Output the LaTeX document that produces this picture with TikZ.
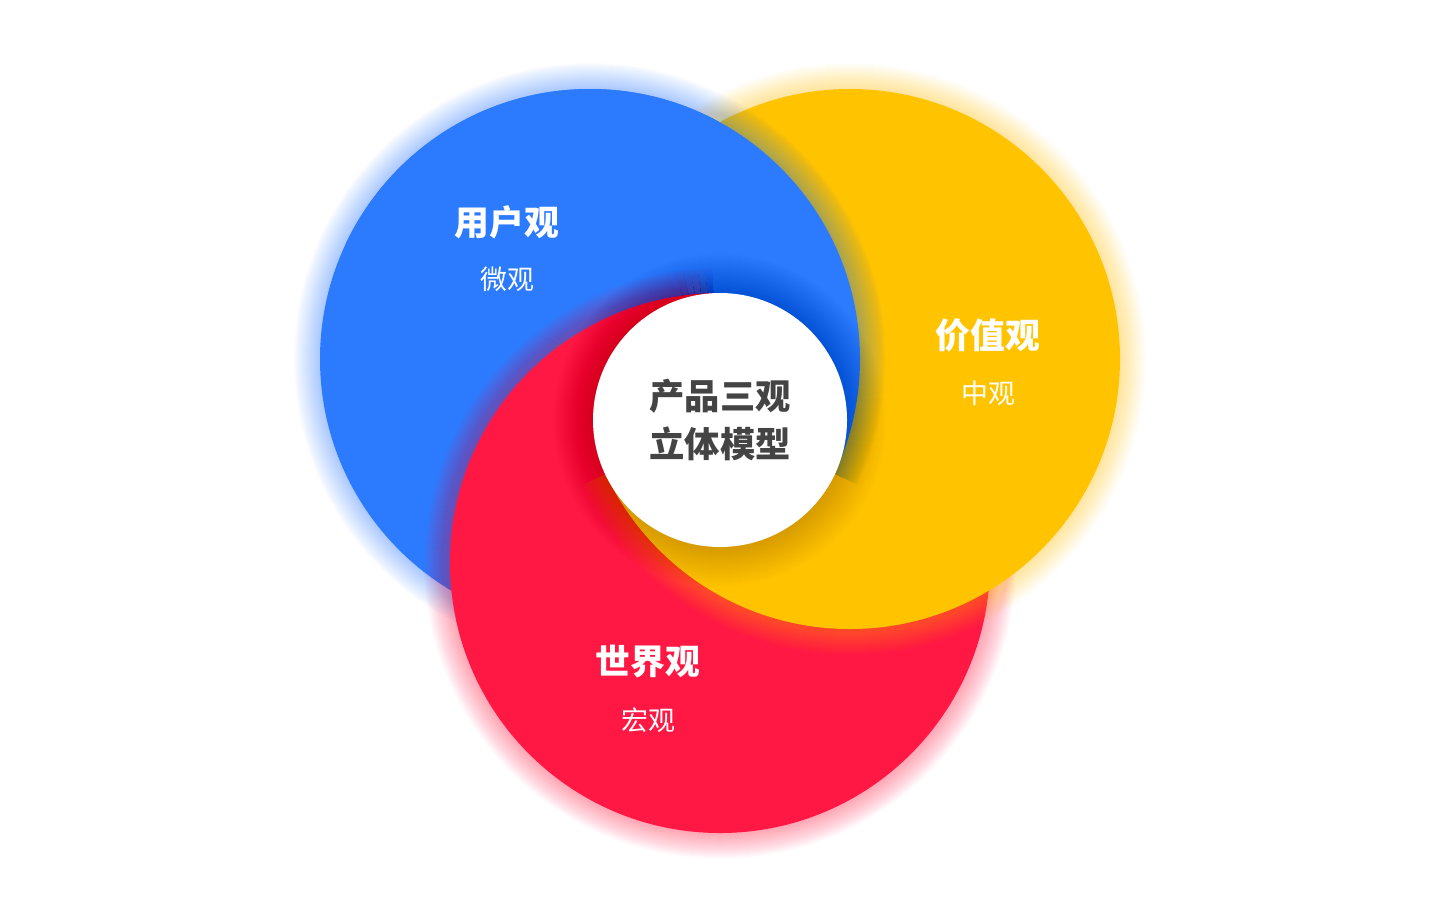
\documentclass[tikz,border=0pt]{standalone}
\usepackage{fontspec}
\newfontfamily\cjk{Noto Sans CJK SC}
\definecolor{cblue}{RGB}{44,123,255}
\definecolor{cyellow}{RGB}{255,195,0}
\definecolor{cred}{RGB}{255,24,68}
\definecolor{ctext}{RGB}{68,68,68}
\newcommand{\glowring}[3][0.017]{\foreach \k in {1,...,26}{\fill[#3,fill opacity=#1] #2 circle[radius={270+\k}];}}
\begin{document}
\begin{tikzpicture}[x=0.02cm,y=-0.02cm,
  titletext/.style={font=\cjk\bfseries\fontsize{19.8}{24}\selectfont, text=white, inner sep=0pt},
  subtext/.style={font=\cjk\fontsize{15.3}{18}\selectfont, text=white, inner sep=0pt},
  coretext/.style={font=\cjk\bfseries\fontsize{20.1}{24}\selectfont, text=ctext, inner sep=0pt}]
\useasboundingbox (0,0) rectangle (1440,921);
\fill[white] (0,0) rectangle (1440,921);
\coordinate (B) at (590,359);
\coordinate (Y) at (850,359);
\coordinate (R) at (720,563);
\coordinate (W) at (720,420);
% base order: blue, red, yellow
\glowring{(B)}{cblue}
\fill[cblue] (B) circle[radius=270];
\glowring{(R)}{cred}
\fill[cred] (R) circle[radius=270];
\glowring{(Y)}{cyellow}
\fill[cyellow] (Y) circle[radius=270];
% blue over yellow (above the line through B and W)
\begin{scope}
  \clip (-100,35) -- (1540,805) -- (1540,-100) -- (-100,-100) -- cycle;
  \begin{scope}
    \clip (Y) circle[radius=270];
    \glowring{(B)}{cblue}
  \end{scope}
  \fill[cblue] (B) circle[radius=270];
\end{scope}
% red glow over blue in the upper left, fading towards the top of the centre
\begin{scope}
  \clip (-100,35) -- (1540,805) -- (1540,-100) -- (-100,-100) -- cycle;
  \begin{scope}
    \clip (720,420) -- (358,590) -- (100,590) -- (100,20) -- (600,20) -- cycle;
    \glowring{(R)}{cred}
  \end{scope}
  \foreach \i [evaluate=\i as \xa using 600+20*\i,
               evaluate=\i as \xb using 620+20*\i,
               evaluate=\i as \op using 0.017*(1-(\i+0.5)/6)] in {0,...,5}{
    \begin{scope}
      \clip (W) -- (\xa,20) -- (\xb,20) -- cycle;
      \glowring[\op]{(R)}{cred}
    \end{scope}
  }
\end{scope}
% red over blue and yellow in the left sector
\begin{scope}
  \clip (720,420) -- (358,590) -- (100,590) -- (100,20) -- (720,20) -- cycle;
  \fill[cred] (R) circle[radius=270];
\end{scope}
% white centre with shadow
\foreach \k in {1,...,40}{\fill[black,fill opacity=0.0045] (W) circle[radius={127+\k}];}
\fill[white] (W) circle[radius=127];
% texts
\node[titletext] (t1) at (507,222) {用户观};
\node[subtext] (s1) at (507,279) {微观};
\node[titletext] (t2) at (988,335) {价值观};
\node[subtext] (s2) at (988,393) {中观};
\node[titletext] (t3) at (648,662) {世界观};
\node[subtext] (s3) at (648,720) {宏观};
\node[coretext] (c1) at (720,396) {产品三观};
\node[coretext] (c2) at (720,444) {立体模型};
\end{tikzpicture}
\end{document}
